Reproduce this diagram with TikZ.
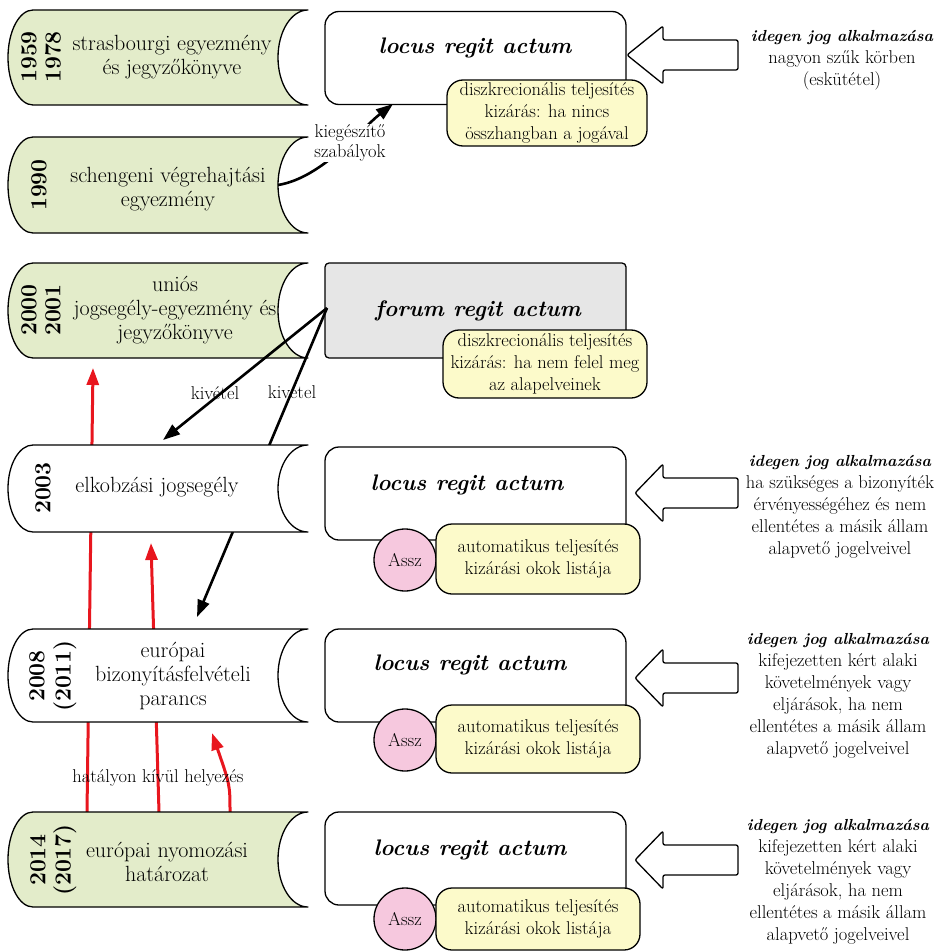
\documentclass[tikz,border=0pt]{standalone}
\usepackage{fontspec}
\usetikzlibrary{arrows.meta}
\definecolor{grn}{RGB}{227,236,202}
\definecolor{ylw}{RGB}{252,250,202}
\definecolor{pnk}{RGB}{246,200,222}
\definecolor{gry}{RGB}{230,230,230}
\definecolor{rd}{RGB}{232,22,30}
\newcommand\myscroll[3]{%
  \pgfmathsetmacro\hh{(#2-#1)/2}%
  \path[outl,fill=#3] (308,-#1) arc[start angle=90,end angle=270,x radius=30,y radius=\hh]
    -- (33,-#2) arc[start angle=270,end angle=90,x radius=25,y radius=\hh] -- cycle;}
\newcommand\blkarrow[2]{%
  \begin{scope}[yshift=-#2pt]
  \draw[outl,rounded corners=2pt,fill=white] (#1,0) -- (663,29) -- (663,15) -- (738,15)
    -- (738,-15) -- (663,-15) -- (663,-29) -- cycle;
  \end{scope}}
\begin{document}
\begin{tikzpicture}[x=1pt,y=1pt,line join=round,
  outl/.style={draw=black,line width=1.3pt},
  lt/.style={font=\fontsize{22}{24}\selectfont,align=center,inner sep=0pt},
  yr/.style={font=\fontsize{23}{24}\selectfont\bfseries,rotate=90,inner sep=0pt},
  rbox/.style={outl,fill=white,rounded corners=14pt,minimum width=301pt,inner sep=0pt},
  latin/.style={font=\fontsize{22.5}{24}\selectfont\bfseries\itshape,inner sep=0pt},
  ybox/.style={outl,fill=ylw,rounded corners=16pt,minimum width=204pt,inner sep=0pt,align=center,font=\fontsize{18.5}{22}\selectfont},
  assz/.style={outl,fill=pnk,circle,minimum size=62pt,inner sep=0pt,font=\fontsize{18.5}{20}\selectfont},
  rtext/.style={align=center,inner sep=0pt,font=\fontsize{18.5}{22}\selectfont},
  lbl/.style={align=center,inner sep=0pt,font=\fontsize{18.5}{20}\selectfont},
  blk/.style={line width=2.6pt,-{Triangle[length=17pt,width=12pt]}},
  red/.style={draw=rd,line width=3pt,-{Triangle[length=17pt,width=12pt]},color=rd},
]
\useasboundingbox (0,0) rectangle (939,-952);

% ---- top right boxes
\node[rbox,minimum height=93pt] (r1) at (475.5,-58) {};
\node[latin] (r1t) at (475,-48) {locus regit actum};
\node[ybox,minimum width=200pt,minimum height=66pt] (y1) at (547,-113) {diszkrecionális teljesítés\\kizárás: ha nincs\\összhangban a jogával};

\node[outl,fill=gry,rounded corners=4pt,minimum width=301pt,minimum height=95pt,inner sep=0pt] (r2) at (475.5,-310.5) {};
\node[latin] (r2t) at (478,-311) {forum regit actum};
\node[ybox,minimum height=68pt] (y2) at (545,-364) {diszkrecionális teljesítés\\kizárás: ha nem felel meg\\az alapelveinek};

% ---- left scrolls 1-3
\myscroll{10}{105}{grn}
\node[yr] (y1a) at (29,-57) {1959};
\node[yr] (y1b) at (53,-57) {1978};
\node[lt] (t1) at (172,-57) {strasbourgi egyezmény\\és jegyzőkönyve};

\myscroll{137}{233}{grn}
\node[yr] (y2a) at (39,-185) {1990};
\node[lt] (t2) at (168,-189) {schengeni végrehajtási\\egyezmény};

\myscroll{263}{358}{grn}
\node[yr] (y3a) at (29,-310) {2000};
\node[yr] (y3b) at (53,-310) {2001};
\node[lt] (t3) at (175,-310) {uniós\\jogsegély-egyezmény és\\jegyzőkönyve};

% ---- connectors
\coordinate (k1) at (278,-185);
\coordinate (k2) at (393,-104);
\draw[blk] (k1) .. controls (322,-178) and (362,-128) .. (k2);
\node[lbl,fill=white,inner sep=1pt] (kl) at (350,-143) {kiegészítő\\szabályok};

\coordinate (f1) at (327,-308);
\coordinate (e1) at (163,-440);
\coordinate (e2) at (197,-617);
\draw[blk] (f1) -- (e1);
\draw[blk] (f1) -- (e2);
\node[lbl] (kv1) at (215,-393) {kivétel};
\node[lbl] (kv2) at (292,-392) {kivétel};

\coordinate (h1) at (87,-812);
\coordinate (h2) at (159,-812);
\coordinate (h3) at (230,-812);
\coordinate (g1) at (93,-368);
\coordinate (g2) at (151,-543);
\coordinate (g3) at (212,-733);
\draw[red] (h1) -- (g1);
\draw[red] (h2) -- (g2);
\draw[red] (h3) .. controls (230,-785) .. (g3);

% ---- left scrolls 4-6
\myscroll{445}{532}{white}
\node[yr] (y4a) at (43,-488) {2003};
\node[lt] (t4) at (157,-487) {elkobzási jogsegély};

\myscroll{629}{722}{white}
\node[yr] (y5a) at (37,-676) {2008};
\node[yr] (y5b) at (65,-676) {(2011)};
\node[lt] (t5) at (173,-676) {európai\\bizonyításfelvételi\\parancs};

\myscroll{812}{907}{grn}
\node[yr] (y6a) at (38,-860) {2014};
\node[yr] (y6b) at (65,-860) {(2017)};
\node[lt] (t6) at (167,-862) {európai nyomozási\\határozat};

\node[lbl] (hl) at (158,-778) {hatályon kívül helyezés};

% ---- lower right boxes
\node[rbox,minimum height=93pt] (r3) at (475.5,-493.5) {};
\node[latin] (r3t) at (467,-485) {locus regit actum};
\node[assz] (c3) at (405,-560) {Assz};
\node[ybox,minimum height=70pt] (y3) at (538,-559) {automatikus teljesítés\\kizárási okok listája};

\node[rbox,minimum height=93pt] (r4) at (475.5,-675.5) {};
\node[latin] (r4t) at (470,-665) {locus regit actum};
\node[assz] (c4) at (405,-740) {Assz};
\node[ybox,minimum height=68pt] (y4) at (538,-739) {automatikus teljesítés\\kizárási okok listája};

\node[rbox,minimum height=93pt] (r5) at (475.5,-858.5) {};
\node[latin] (r5t) at (470,-850) {locus regit actum};
\node[assz] (c5) at (405,-919) {Assz};
\node[ybox,minimum height=62pt] (y5) at (538,-919) {automatikus teljesítés\\kizárási okok listája};

% ---- block arrows
\blkarrow{627}{55}
\blkarrow{635}{493}
\blkarrow{635}{678}
\blkarrow{635}{860}

% ---- right texts
\node[rtext] (rt1) at (842,-60) {{\fontsize{16}{22}\selectfont\bfseries\itshape idegen jog alkalmazása}\\nagyon szűk körben\\(eskütétel)};
\node[rtext] (rt3) at (840,-507) {{\fontsize{16}{22}\selectfont\bfseries\itshape idegen jog alkalmazása}\\ha szükséges a bizonyíték\\érvényességéhez és nem\\ellentétes a másik állam\\alapvető jogelveivel};
\node[rtext] (rt4) at (838,-696) {{\fontsize{16}{22}\selectfont\bfseries\itshape idegen jog alkalmazása}\\kifejezetten kért alaki\\követelmények vagy\\eljárások, ha nem\\ellentétes a másik állam\\alapvető jogelveivel};
\node[rtext] (rt5) at (838,-882) {{\fontsize{16}{22}\selectfont\bfseries\itshape idegen jog alkalmazása}\\kifejezetten kért alaki\\követelmények vagy\\eljárások, ha nem\\ellentétes a másik állam\\alapvető jogelveivel};
\end{tikzpicture}
\end{document}
